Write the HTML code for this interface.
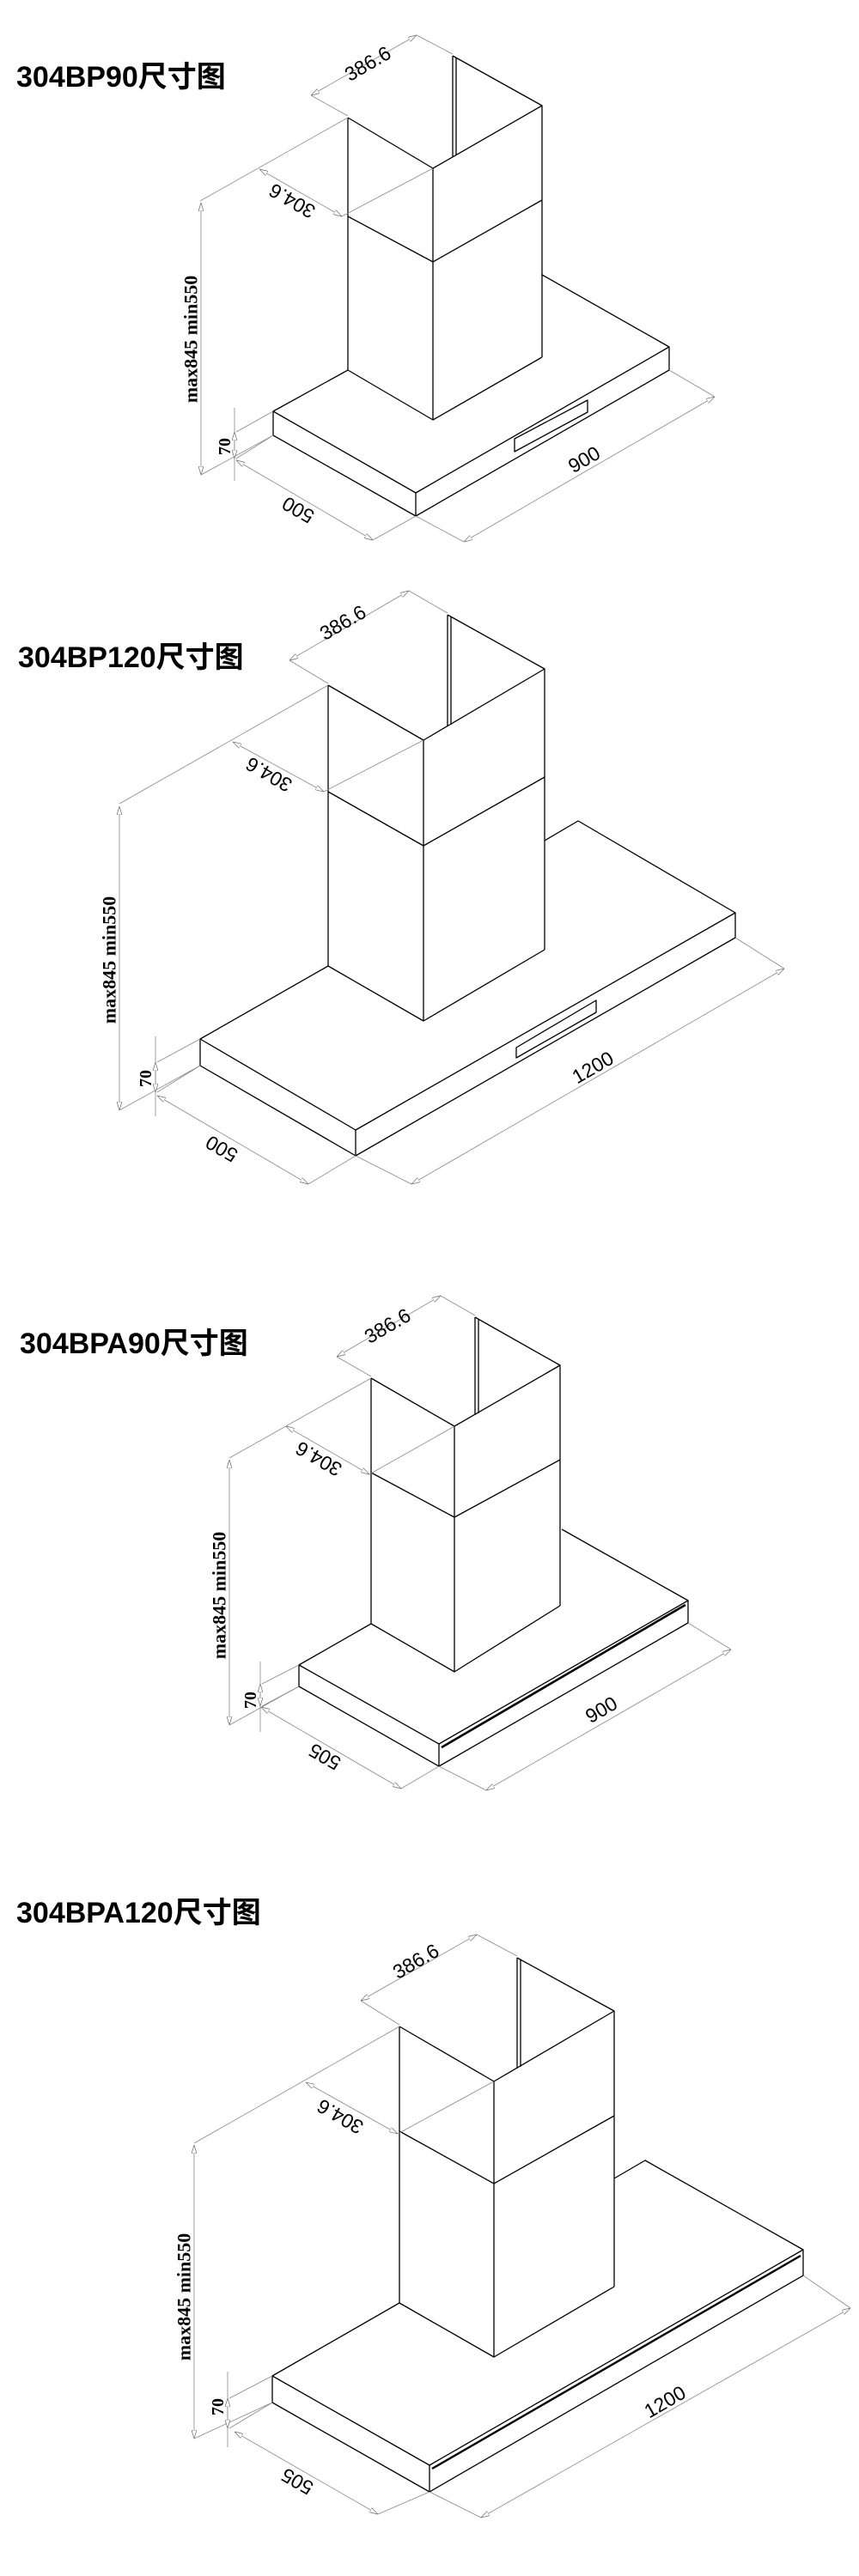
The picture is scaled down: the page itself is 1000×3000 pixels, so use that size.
<!DOCTYPE html>
<html><head><meta charset="utf-8"><style>
html,body{margin:0;padding:0;background:#fff;}
svg{display:block;}
.t{font-family:"Liberation Sans","Noto Sans CJK SC",sans-serif;font-weight:bold;font-size:34px;fill:#000;}
.e{stroke:#000;stroke-width:1.3;fill:none;stroke-linejoin:round;}
.d{stroke:#888;stroke-width:0.8;fill:none;marker-start:url(#a);marker-end:url(#a);}
.x{stroke:#888;stroke-width:0.8;fill:none;}
.n{font-family:"Liberation Sans",sans-serif;font-size:23px;fill:#000;text-anchor:middle;dominant-baseline:central;}
.h{font-family:"Liberation Serif",serif;font-weight:bold;font-size:22px;fill:#000;text-anchor:middle;dominant-baseline:central;}
.s{font-family:"Liberation Serif",serif;font-weight:bold;font-size:20px;fill:#000;text-anchor:middle;dominant-baseline:central;}
</style></head><body>
<svg width="1000" height="3000" viewBox="0 0 1000 3000" xmlns="http://www.w3.org/2000/svg">
<defs>
<marker id="a" viewBox="0 0 10 6" refX="10" refY="3" markerWidth="10" markerHeight="6" markerUnits="userSpaceOnUse" orient="auto-start-reverse">
<path d="M0,0 L10,3 L0,6 Z" fill="#fff" stroke="#777" stroke-width="0.8"/>
</marker>
</defs>

<!-- ===== Diagram 1 ===== -->
<text class="t" x="19" y="101">304BP90尺寸图</text>
<g>
<polyline class="e" points="405,137 504,196 631,123 527,65"/>
<line class="e" x1="527" y1="65" x2="527" y2="183"/>
<line class="e" x1="531" y1="67" x2="531" y2="181"/>
<line class="e" x1="405" y1="137" x2="405" y2="431"/>
<line class="e" x1="504" y1="196" x2="504" y2="489"/>
<line class="e" x1="631" y1="123" x2="631" y2="416"/>
<polyline class="e" points="405,252 504,305 631,233"/>
<polyline class="e" points="405,431 504,489 631,416"/>
<polyline class="e" points="405,431 318,479 484,574 779,404 631,320"/>
<polyline class="e" points="318,479 318,507 484,601 779,431 779,404"/>
<line class="e" x1="484" y1="574" x2="484" y2="601"/>
<polygon class="e" points="599,511 684,466 684,480 599,526"/>
<line class="x" x1="362" y1="111" x2="405" y2="135"/>
<line class="x" x1="485" y1="41" x2="527" y2="63"/>
<line class="d" x1="362" y1="111" x2="485" y2="41"/>
<text class="n" transform="translate(428,74) rotate(-30)">386.6</text>
<line class="x" x1="233" y1="234" x2="405" y2="137"/>
<line class="x" x1="398" y1="252" x2="504" y2="196"/>
<line class="d" x1="302" y1="197" x2="398" y2="252"/>
<text class="n" transform="translate(340,234) rotate(-150)">304.6</text>
<line class="d" x1="234" y1="236" x2="234" y2="553"/>
<line class="x" x1="234" y1="553" x2="318" y2="507"/>
<text class="h" transform="translate(222,395) rotate(-90)">max845 min550</text>
<line class="x" x1="273" y1="475" x2="273" y2="560"/>
<line class="x" x1="275" y1="503" x2="318" y2="479"/>
<line class="x" x1="275" y1="534" x2="318" y2="507"/>
<line class="d" x1="273" y1="503" x2="273" y2="534"/>
<text class="s" transform="translate(262,520) rotate(-90)">70</text>
<line class="d" x1="275" y1="536" x2="434" y2="629"/>
<line class="x" x1="434" y1="629" x2="484" y2="601"/>
<text class="n" transform="translate(347,594) rotate(-150)">500</text>
<line class="x" x1="484" y1="601" x2="540" y2="631"/>
<line class="x" x1="779" y1="431" x2="832" y2="462"/>
<line class="d" x1="540" y1="631" x2="832" y2="462"/>
<text class="n" transform="translate(680,535) rotate(-30)">900</text>
</g>

<!-- ===== Diagram 2 ===== -->
<text class="t" x="21" y="777">304BP120尺寸图</text>
<g>
<polyline class="e" points="382,798 493,862 634,779 521,716"/>
<line class="e" x1="521" y1="716" x2="521" y2="846"/>
<line class="e" x1="525" y1="718" x2="525" y2="844"/>
<line class="e" x1="382" y1="798" x2="382" y2="1125"/>
<line class="e" x1="493" y1="862" x2="493" y2="1189"/>
<line class="e" x1="634" y1="779" x2="634" y2="1106"/>
<polyline class="e" points="382,922 493,985 634,905"/>
<polyline class="e" points="382,1125 493,1189 634,1106"/>
<polyline class="e" points="382,1125 233,1210 414,1316 856,1063 673,956 634,979"/>
<polyline class="e" points="233,1210 233,1241 414,1346 856,1092 856,1063"/>
<line class="e" x1="414" y1="1316" x2="414" y2="1346"/>
<polygon class="e" points="601,1220 694,1165 694,1179 601,1232"/>
<line class="x" x1="337" y1="769" x2="382" y2="796"/>
<line class="x" x1="476" y1="688" x2="521" y2="714"/>
<line class="d" x1="337" y1="769" x2="476" y2="688"/>
<text class="n" transform="translate(399,725) rotate(-30)">386.6</text>
<line class="x" x1="139" y1="936" x2="382" y2="798"/>
<line class="x" x1="377" y1="922" x2="493" y2="862"/>
<line class="d" x1="271" y1="864" x2="377" y2="922"/>
<text class="n" transform="translate(313,902) rotate(-150)">304.6</text>
<line class="d" x1="139" y1="939" x2="139" y2="1293"/>
<line class="x" x1="139" y1="1293" x2="233" y2="1241"/>
<text class="h" transform="translate(127,1118) rotate(-90)">max845 min550</text>
<line class="x" x1="181" y1="1207" x2="181" y2="1300"/>
<line class="x" x1="183" y1="1237" x2="233" y2="1210"/>
<line class="x" x1="183" y1="1272" x2="233" y2="1241"/>
<line class="d" x1="181" y1="1237" x2="181" y2="1272"/>
<text class="s" transform="translate(170,1256) rotate(-90)">70</text>
<line class="d" x1="183" y1="1276" x2="359" y2="1379"/>
<line class="x" x1="359" y1="1379" x2="414" y2="1346"/>
<text class="n" transform="translate(258,1338) rotate(-150)">500</text>
<line class="x" x1="414" y1="1346" x2="479" y2="1379"/>
<line class="x" x1="856" y1="1092" x2="913" y2="1128"/>
<line class="d" x1="479" y1="1379" x2="913" y2="1128"/>
<text class="n" transform="translate(690,1243) rotate(-30)">1200</text>
</g>

<!-- ===== Diagram 3 ===== -->
<text class="t" x="23" y="1576">304BPA90尺寸图</text>
<g>
<polyline class="e" points="432,1605 529,1661 652,1590 553,1534"/>
<line class="e" x1="553" y1="1534" x2="553" y2="1648"/>
<line class="e" x1="557" y1="1536" x2="557" y2="1646"/>
<line class="e" x1="432" y1="1605" x2="432" y2="1891"/>
<line class="e" x1="529" y1="1661" x2="529" y2="1947"/>
<line class="e" x1="652" y1="1590" x2="652" y2="1870"/>
<polyline class="e" points="432,1715 529,1767 652,1700"/>
<polyline class="e" points="432,1891 529,1947 652,1870"/>
<polyline class="e" points="432,1891 348,1939 511,2031 801,1864 654,1781"/>
<polyline class="e" points="348,1939 348,1964 511,2057 801,1890 801,1864"/>
<line class="e" x1="511" y1="2031" x2="511" y2="2057"/>
<line x1="514" y1="2035" x2="798" y2="1869" stroke="#000" stroke-width="2.6"/>
<line class="x" x1="392" y1="1580" x2="432" y2="1603"/>
<line class="x" x1="513" y1="1509" x2="553" y2="1532"/>
<line class="d" x1="392" y1="1580" x2="513" y2="1509"/>
<text class="n" transform="translate(451,1544) rotate(-30)">386.6</text>
<line class="x" x1="267" y1="1698" x2="432" y2="1605"/>
<line class="x" x1="430" y1="1717" x2="529" y2="1661"/>
<line class="d" x1="333" y1="1661" x2="430" y2="1717"/>
<text class="n" transform="translate(371,1699) rotate(-150)">304.6</text>
<line class="d" x1="267" y1="1700" x2="267" y2="2009"/>
<line class="x" x1="267" y1="2009" x2="348" y2="1964"/>
<text class="h" transform="translate(255,1858) rotate(-90)">max845 min550</text>
<line class="x" x1="303" y1="1935" x2="303" y2="2017"/>
<line class="x" x1="305" y1="1961" x2="348" y2="1939"/>
<line class="x" x1="305" y1="1987" x2="348" y2="1964"/>
<line class="d" x1="303" y1="1961" x2="303" y2="1987"/>
<text class="s" transform="translate(292,1980) rotate(-90)">70</text>
<line class="d" x1="304" y1="1988" x2="467" y2="2083"/>
<line class="x" x1="467" y1="2083" x2="511" y2="2057"/>
<text class="n" transform="translate(378,2046) rotate(-150)">505</text>
<line class="x" x1="511" y1="2057" x2="566" y2="2085"/>
<line class="x" x1="801" y1="1890" x2="851" y2="1921"/>
<line class="d" x1="566" y1="2085" x2="851" y2="1921"/>
<text class="n" transform="translate(700,1991) rotate(-30)">900</text>
</g>

<!-- ===== Diagram 4 ===== -->
<text class="t" x="19" y="2239">304BPA120尺寸图</text>
<g>
<polyline class="e" points="465,2360 575,2424 715,2342 602,2280"/>
<line class="e" x1="602" y1="2280" x2="602" y2="2409"/>
<line class="e" x1="606" y1="2282" x2="606" y2="2407"/>
<line class="e" x1="465" y1="2360" x2="465" y2="2682"/>
<line class="e" x1="575" y1="2424" x2="575" y2="2745"/>
<line class="e" x1="715" y1="2342" x2="715" y2="2663"/>
<polyline class="e" points="465,2482 575,2543 715,2464"/>
<polyline class="e" points="465,2682 575,2745 715,2663"/>
<polyline class="e" points="465,2682 317,2767 500,2871 935,2620 751,2516 715,2537"/>
<polyline class="e" points="317,2767 317,2798 500,2902 935,2650 935,2620"/>
<line class="e" x1="500" y1="2871" x2="500" y2="2902"/>
<line x1="503" y1="2875" x2="932" y2="2627" stroke="#000" stroke-width="2.4"/>
<line class="x" x1="420" y1="2330" x2="465" y2="2358"/>
<line class="x" x1="555" y1="2253" x2="602" y2="2278"/>
<line class="d" x1="420" y1="2330" x2="555" y2="2253"/>
<text class="n" transform="translate(484,2284) rotate(-30)">386.6</text>
<line class="x" x1="226" y1="2496" x2="465" y2="2360"/>
<line class="x" x1="463" y1="2485" x2="575" y2="2424"/>
<line class="d" x1="356" y1="2425" x2="463" y2="2485"/>
<text class="n" transform="translate(396,2465) rotate(-150)">304.6</text>
<line class="d" x1="226" y1="2498" x2="226" y2="2840"/>
<line class="x" x1="226" y1="2840" x2="317" y2="2798"/>
<text class="h" transform="translate(214,2675) rotate(-90)">max845 min550</text>
<line class="x" x1="265" y1="2762" x2="265" y2="2850"/>
<line class="x" x1="267" y1="2793" x2="317" y2="2767"/>
<line class="x" x1="267" y1="2828" x2="317" y2="2798"/>
<line class="d" x1="265" y1="2793" x2="265" y2="2828"/>
<text class="s" transform="translate(254,2803) rotate(-90)">70</text>
<line class="d" x1="273" y1="2832" x2="440" y2="2928"/>
<line class="x" x1="440" y1="2928" x2="500" y2="2902"/>
<text class="n" transform="translate(346,2890) rotate(-150)">505</text>
<line class="x" x1="500" y1="2902" x2="560" y2="2932"/>
<line class="x" x1="935" y1="2650" x2="990" y2="2688"/>
<line class="d" x1="560" y1="2932" x2="990" y2="2688"/>
<text class="n" transform="translate(774,2797) rotate(-30)">1200</text>
</g>
</svg>
</body></html>
